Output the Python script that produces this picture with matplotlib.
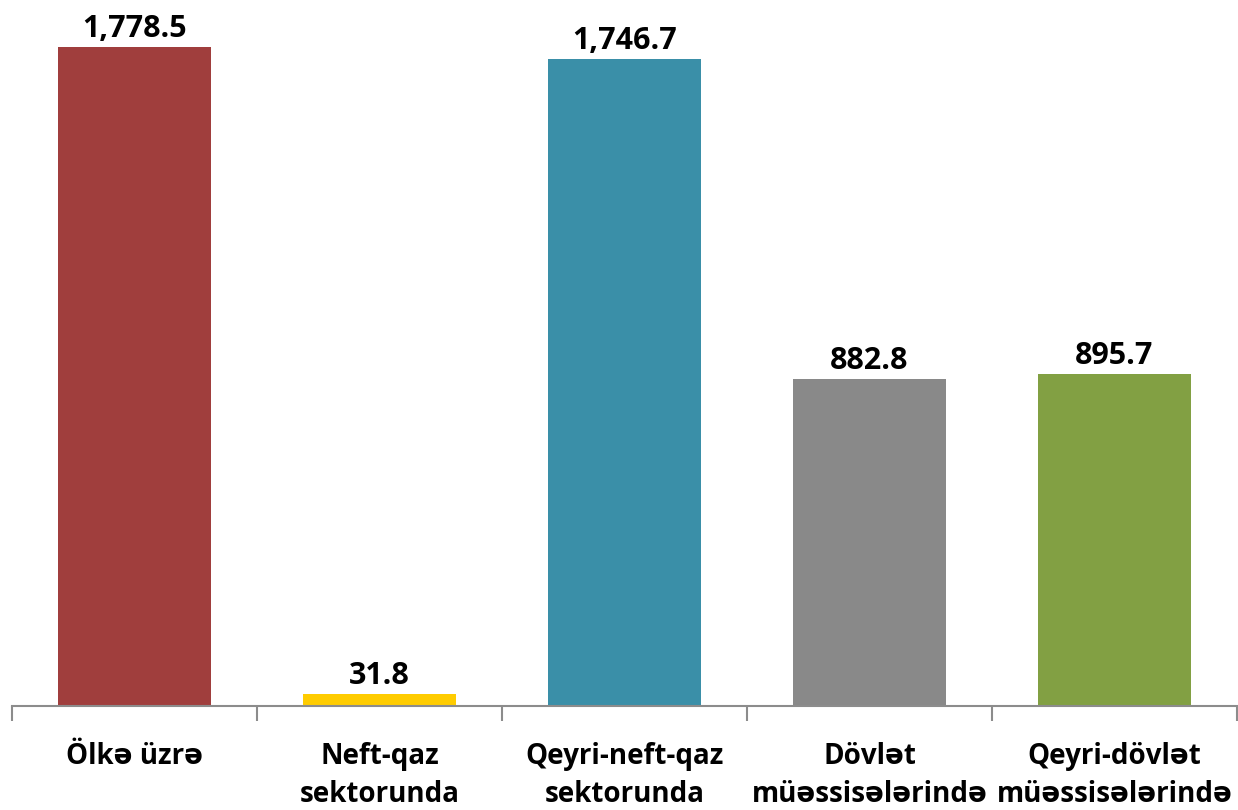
import matplotlib
matplotlib.use("Agg")
import matplotlib.pyplot as plt
import numpy as np

categories = ["Ölkə üzrə", "Neft-qaz\nsektorunda", "Qeyri-neft-qaz\nsektorunda",
              "Dövlət\nmüəssisələrində", "Qeyri-dövlət\nmüəssisələrində"]
values = [1778.5, 31.8, 1746.7, 882.8, 895.7]
colors = ["#A03E3D", "#FFCC00", "#3A8FA8", "#898989", "#82A043"]

plt.rcParams['font.family'] = ['Open Sans', 'DejaVu Sans']

fig = plt.figure(figsize=(12.38, 8.10), dpi=100)
ax = fig.add_axes([12 / 1238, 104 / 810, 1225 / 1238, 706 / 810])

x = np.arange(len(categories))
bars = ax.bar(x, values, width=0.625, color=colors, zorder=2)

for b, v in zip(bars, values):
    ax.text(b.get_x() + b.get_width() / 2, v + 8, f"{v:,.1f}",
            ha='center', va='bottom', fontsize=22, fontweight='bold')

ax.set_xlim(-0.5, len(categories) - 0.5)
ax.set_ylim(0, 1905)
ax.set_yticks([])

for s in ['top', 'right', 'left']:
    ax.spines[s].set_visible(False)
ax.spines['bottom'].set_color('#8C8C8C')
ax.spines['bottom'].set_linewidth(1.5)

ax.set_xticks(x)
ax.set_xticklabels(categories, fontsize=20, fontweight='bold', linespacing=1.4)
ax.tick_params(axis='x', which='major', length=0, pad=26)
ax.set_xticks(np.arange(-0.5, len(categories)), minor=True)
ax.tick_params(axis='x', which='minor', length=11, width=1.5, color='#8C8C8C',
               direction='out')

fig.savefig("out.png", dpi=100)
